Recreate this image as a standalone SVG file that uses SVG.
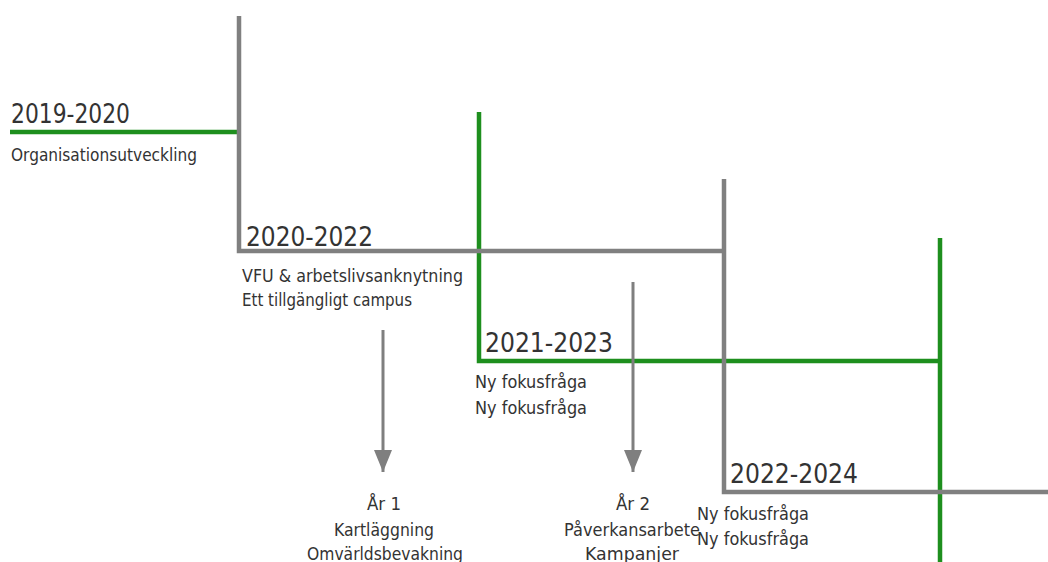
<svg xmlns="http://www.w3.org/2000/svg" width="1048" height="562" viewBox="0 0 1048 562">
<style>
.g{fill:none;stroke:#1e8f1e;stroke-width:4.5}
.k{fill:none;stroke:#808080;stroke-width:4.5}
.yr{font-family:"DejaVu Sans",sans-serif;font-size:26px;fill:#333}
.t{font-family:"DejaVu Sans",sans-serif;font-size:18px;fill:#333}
.c{text-anchor:middle}
.ar{fill:none;stroke:#7f7f7f;stroke-width:3}
</style>
<defs>
<marker id="ah" markerUnits="userSpaceOnUse" markerWidth="24" markerHeight="20" refX="22" refY="10" orient="auto" viewBox="0 0 24 20">
<path d="M0,1 L22,10 L0,19 Z" fill="#7f7f7f"/>
</marker>
</defs>
<rect width="1048" height="562" fill="#fff"/>
<g id="p2019">
<path class="g" d="M10,132 H239"/>
<text class="yr" x="11" y="123" textLength="119" lengthAdjust="spacingAndGlyphs">2019-2020</text>
<text class="t" x="11" y="161" textLength="186" lengthAdjust="spacingAndGlyphs">Organisationsutveckling</text>
</g>
<g id="p2021">
<path class="g" d="M479,112 V361 H940"/>
<text class="yr" x="485" y="352" textLength="128" lengthAdjust="spacingAndGlyphs">2021-2023</text>
<text class="t" x="475" y="388" textLength="112" lengthAdjust="spacingAndGlyphs">Ny fokusfråga</text>
<text class="t" x="475" y="414" textLength="112" lengthAdjust="spacingAndGlyphs">Ny fokusfråga</text>
</g>
<g id="p2023">
<path class="g" d="M940,238 V562"/>
</g>
<g id="p2020">
<path class="k" d="M239,16 V251 H724"/>
<text class="yr" x="246" y="246" textLength="127" lengthAdjust="spacingAndGlyphs">2020-2022</text>
<text class="t" x="242" y="282" textLength="221" lengthAdjust="spacingAndGlyphs">VFU &amp; arbetslivsanknytning</text>
<text class="t" x="242" y="306" textLength="170" lengthAdjust="spacingAndGlyphs">Ett tillgängligt campus</text>
</g>
<g id="p2022">
<path class="k" d="M724,179 V492 H1048"/>
<text class="yr" x="730" y="483" textLength="128" lengthAdjust="spacingAndGlyphs">2022-2024</text>
<text class="t" x="697" y="520" textLength="112" lengthAdjust="spacingAndGlyphs">Ny fokusfråga</text>
<text class="t" x="697" y="545" textLength="112" lengthAdjust="spacingAndGlyphs">Ny fokusfråga</text>
</g>
<g id="connectors">
<path class="ar" d="M383,330 V472" marker-end="url(#ah)"/>
<path class="ar" d="M633,282 V472" marker-end="url(#ah)"/>
</g>
<g id="year1">
<text class="t c" x="384" y="510" textLength="34" lengthAdjust="spacingAndGlyphs">År 1</text>
<text class="t c" x="384" y="536" textLength="100" lengthAdjust="spacingAndGlyphs">Kartläggning</text>
<text class="t c" x="385" y="560" textLength="156" lengthAdjust="spacingAndGlyphs">Omvärldsbevakning</text>
</g>
<g id="year2">
<text class="t c" x="633" y="510" textLength="34" lengthAdjust="spacingAndGlyphs">År 2</text>
<text class="t c" x="632" y="536" textLength="136" lengthAdjust="spacingAndGlyphs">Påverkansarbete</text>
<text class="t c" x="632" y="560" textLength="94" lengthAdjust="spacingAndGlyphs">Kampanjer</text>
</g>
</svg>
